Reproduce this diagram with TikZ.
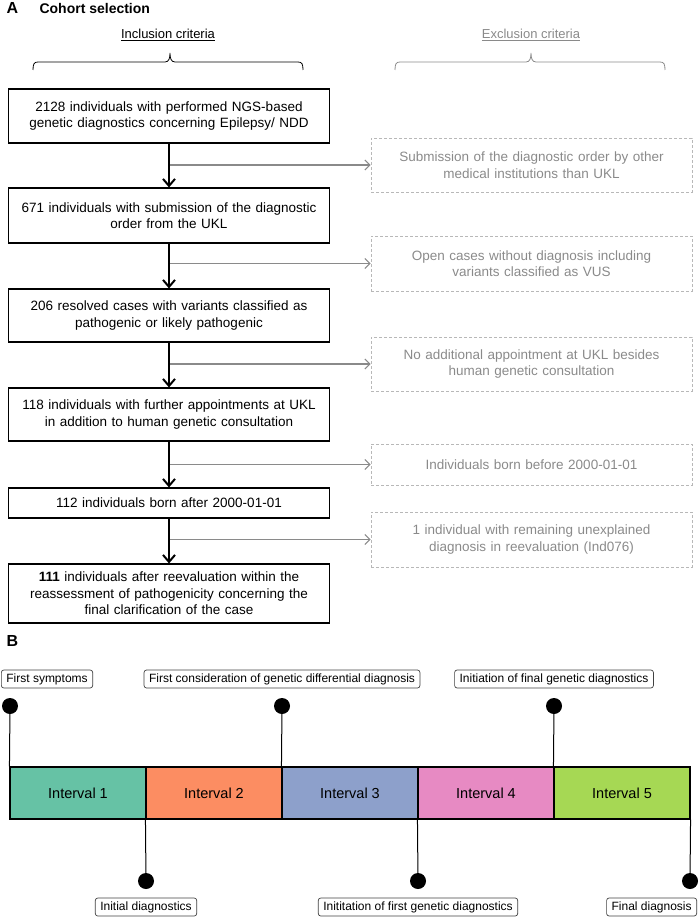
\documentclass[tikz,border=0pt]{standalone}
\usepackage{fontspec}
\setmainfont{Liberation Sans}
\usetikzlibrary{arrows.meta}

\definecolor{exgray}{HTML}{8A8A8A}
\definecolor{dashgray}{HTML}{B8B8B8}
\definecolor{intA}{HTML}{66C2A5}
\definecolor{intB}{HTML}{FC8D62}
\definecolor{intC}{HTML}{8DA0CB}
\definecolor{intD}{HTML}{E78AC3}
\definecolor{intE}{HTML}{A6D854}

\tikzset{
  incl/.style={draw, line width=1.1pt, text width=310pt, align=center, inner sep=0pt,
    minimum width=321pt, font=\fontsize{13.5}{16.5}\selectfont},
  excl/.style={draw=dashgray, dash pattern=on 3pt off 2pt, line width=0.8pt, text=exgray,
    text width=310pt, align=center, inner sep=0pt, minimum width=321pt,
    font=\fontsize{13.5}{16.5}\selectfont},
  mainflow/.style={-{Straight Barb[length=7pt,width=12pt]}, line width=2pt},
  sideflow/.style={draw=exgray, -{Straight Barb[length=5pt,width=10pt]}, line width=1.1pt},
  interval/.style={draw, line width=1.1pt, minimum width=136pt, minimum height=52pt,
    inner sep=0pt, font=\fontsize{14.5}{17}\selectfont},
  knob/.style={circle, fill, inner sep=0pt, minimum size=16pt},
  event/.style={draw=black!75, rounded corners=2.5pt, line width=0.7pt, inner xsep=5pt,
    inner ysep=0pt, minimum height=18pt, font=\fontsize{12}{14}\selectfont},
}

\begin{document}
\begin{tikzpicture}[x=1pt, y=-1pt]
  \useasboundingbox (0,0) rectangle (698,917);

  % part A
  \node[anchor=base west, font=\fontsize{16}{18}\selectfont\bfseries] (labA) at (3,14) {A};
  \node[anchor=base west, font=\fontsize{14}{17}\selectfont\bfseries] (titA) at (36,14) {Cohort selection};

  \node[anchor=base, font=\fontsize{13}{16}\selectfont] (inhead) at (168,39) {\underline{Inclusion criteria}};
  \node[anchor=base, text=exgray, font=\fontsize{13}{16}\selectfont] (exhead) at (531,39) {\underline{Exclusion criteria}};

  % braces
  \draw[line width=0.8pt] (33,70) .. controls (33,64) and (34,62) .. (38,62) -- (165,62)
    .. controls (169,62) and (170,58) .. (170,53) .. controls (170,58) and (171,62) .. (175,62)
    -- (298,62) .. controls (302,62) and (303,64) .. (303,70);
  \draw[exgray, line width=0.8pt] (395,70) .. controls (395,64) and (396,62) .. (400,62) -- (526,62)
    .. controls (530,62) and (531,58) .. (531,53) .. controls (531,58) and (532,62) .. (536,62)
    -- (660,62) .. controls (664,62) and (665,64) .. (665,70);

  % inclusion
  \node[incl, minimum height=54pt] (b1) at (169,116) {2128 individuals with performed NGS-based\\ genetic diagnostics concerning Epilepsy/ NDD};
  \node[incl, minimum height=55pt] (b2) at (169,215.5) {671 individuals with submission of the diagnostic\\ order from the UKL};
  \node[incl, minimum height=53pt] (b3) at (169,315.5) {206 resolved cases with variants classified as\\ pathogenic or likely pathogenic};
  \node[incl, minimum height=53pt] (b4) at (169,414.5) {118 individuals with further appointments at UKL\\ in addition to human genetic consultation};
  \node[incl, minimum height=30pt] (b5) at (169,503) {112 individuals born after 2000-01-01};
  \node[incl, minimum height=59pt] (b6) at (169,593.5) {\textbf{111} individuals after reevaluation within the\\ reassessment of pathogenicity concerning the\\ final clarification of the case};

  % exclusion
  \node[excl, minimum height=54pt] (x1) at (531.5,165) {Submission of the diagnostic order by other\\ medical institutions than UKL};
  \node[excl, minimum height=55pt] (x2) at (531.5,263.5) {Open cases without diagnosis including\\ variants classified as VUS};
  \node[excl, minimum height=54pt] (x3) at (531.5,364) {No additional appointment at UKL besides\\ human genetic consultation};
  \node[excl, minimum height=41pt] (x4) at (531.5,464.5) {Individuals born before 2000-01-01};
  \node[excl, minimum height=55pt] (x5) at (531.5,539.5) {1 individual with remaining unexplained\\ diagnosis in reevaluation (Ind076)};

  \draw[sideflow] (x1.west -| b1.south) -- (x1.west);
  \draw[sideflow] (x2.west -| b2.south) -- (x2.west);
  \draw[sideflow] (x3.west -| b3.south) -- (x3.west);
  \draw[sideflow] (x4.west -| b4.south) -- (x4.west);
  \draw[sideflow] (x5.west -| b5.south) -- (x5.west);

  \draw[mainflow] (b1) -- (b2);
  \draw[mainflow] (b2) -- (b3);
  \draw[mainflow] (b3) -- (b4);
  \draw[mainflow] (b4) -- (b5);
  \draw[mainflow] (b5) -- (b6);

  % part B
  \node[anchor=base west, font=\fontsize{16}{18}\selectfont\bfseries] (labB) at (3,646) {B};

  \node[interval, fill=intA] (i1) at (78,793) {Interval 1};
  \node[interval, fill=intB] (i2) at (214,793) {Interval 2};
  \node[interval, fill=intC] (i3) at (350,793) {Interval 3};
  \node[interval, fill=intD] (i4) at (486,793) {Interval 4};
  \node[interval, fill=intE] (i5) at (622,793) {Interval 5};

  % pins above
  \node[knob] (k1) at (10,706) {};
  \node[knob] (k3) at (282,706) {};
  \node[knob] (k5) at (554,706) {};
  \draw[line width=1pt] (k1) -- (i1.north west);
  \draw[line width=1pt] (k3) -- (i3.north west);
  \draw[line width=1pt] (k5) -- (i5.north west);

  % pins below
  \node[knob] (k2) at (146,881) {};
  \node[knob] (k4) at (418,881) {};
  \node[knob] (k6) at (690,881) {};
  \draw[line width=1pt] (k2) -- (i2.south west);
  \draw[line width=1pt] (k4) -- (i4.south west);
  \draw[line width=1pt] (k6) -- (i5.south east);

  \node[event, anchor=west] (e1) at (1,679) {First symptoms};
  \node[event] (e3) at (282,679) {First consideration of genetic differential diagnosis};
  \node[event] (e5) at (554,679) {Initiation of final genetic diagnostics};
  \node[event] (e2) at (146,907) {Initial diagnostics};
  \node[event] (e4) at (418,907) {Inititation of first genetic diagnostics};
  \node[event, anchor=east] (e6) at (697,907) {Final diagnosis};
\end{tikzpicture}
\end{document}
